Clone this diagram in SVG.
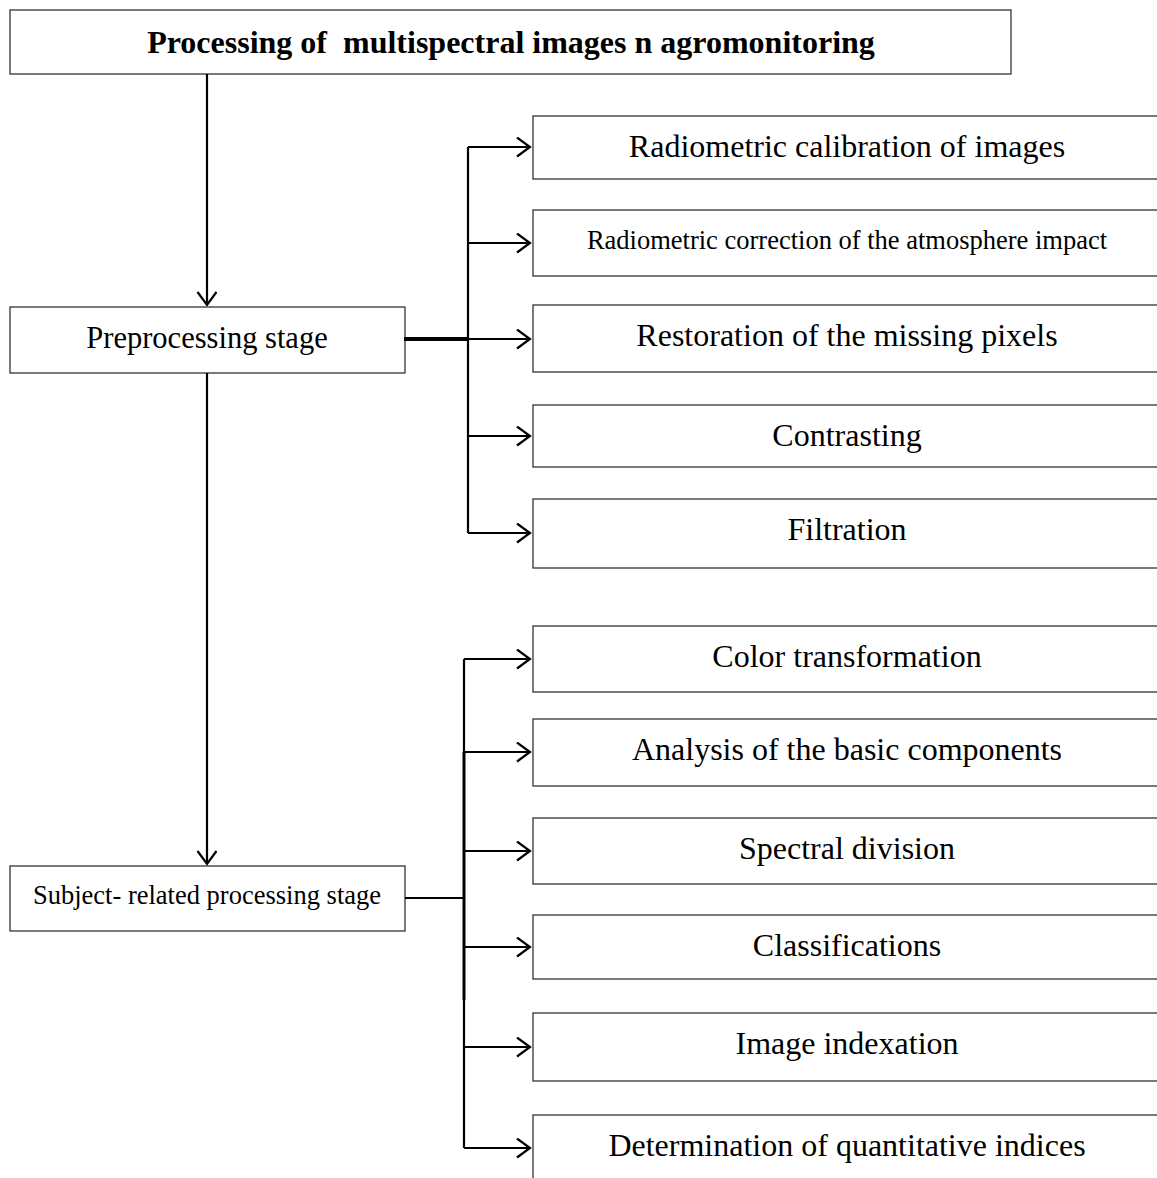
<svg xmlns="http://www.w3.org/2000/svg" width="1157" height="1178" viewBox="0 0 1157 1178">
<style>
.box{fill:#fff;stroke:#333;stroke-width:1.3}
.t{font-family:"Liberation Serif","Times New Roman",serif;fill:#000;text-anchor:middle}
.big{font-size:32px}
.mid{font-size:30.5px}
.small{font-size:26.5px}
.title{font-size:32px;font-weight:bold}
.c{fill:none;stroke:#000;stroke-width:2.2}
.thick{fill:none;stroke:#000;stroke-width:4}
</style>
<defs>
<marker id="ah" markerUnits="userSpaceOnUse" markerWidth="24" markerHeight="24" refX="20" refY="10" orient="auto">
<path d="M7,0.5 L20,10 L7,19.5" fill="none" stroke="#000" stroke-width="2.2"/>
</marker>
</defs>
<rect width="1157" height="1178" fill="#fff"/>
<g id="title"><rect class="box" x="10" y="10" width="1001" height="64"/><text class="t title" x="511" y="53" xml:space="preserve">Processing of  multispectral images n agromonitoring</text></g>
<g id="pre"><rect class="box" x="10" y="307" width="395" height="66"/><text class="t mid" x="207" y="348">Preprocessing stage</text></g>
<g id="subj"><rect class="box" x="10" y="866" width="395" height="65"/><text class="t small" x="207" y="904">Subject- related processing stage</text></g>
<g id="r1"><rect class="box" x="533" y="116" width="640" height="63"/><text class="t big" x="847" y="157">Radiometric calibration of images</text></g>
<g id="r2"><rect class="box" x="533" y="210" width="640" height="66"/><text class="t small" x="847" y="249">Radiometric correction of the atmosphere impact</text></g>
<g id="r3"><rect class="box" x="533" y="305" width="640" height="67"/><text class="t big" x="847" y="346">Restoration of the missing pixels</text></g>
<g id="r4"><rect class="box" x="533" y="405" width="640" height="62"/><text class="t big" x="847" y="446">Contrasting</text></g>
<g id="r5"><rect class="box" x="533" y="499" width="640" height="69"/><text class="t big" x="847" y="540">Filtration</text></g>
<g id="s1"><rect class="box" x="533" y="626" width="640" height="66"/><text class="t big" x="847" y="667">Color transformation</text></g>
<g id="s2"><rect class="box" x="533" y="719" width="640" height="67"/><text class="t big" x="847" y="760">Analysis of the basic components</text></g>
<g id="s3"><rect class="box" x="533" y="818" width="640" height="66"/><text class="t big" x="847" y="859">Spectral division</text></g>
<g id="s4"><rect class="box" x="533" y="915" width="640" height="64"/><text class="t big" x="847" y="956">Classifications</text></g>
<g id="s5"><rect class="box" x="533" y="1013" width="640" height="68"/><text class="t big" x="847" y="1054">Image indexation</text></g>
<g id="s6"><rect class="box" x="533" y="1115" width="640" height="100"/><text class="t big" x="847" y="1156">Determination of quantitative indices</text></g>
<g id="connectors">
<path class="c" d="M207,74 V305" marker-end="url(#ah)"/>
<path class="c" d="M207,373 V864" marker-end="url(#ah)"/>
<path class="thick" d="M404,339 H468"/>
<path class="c" d="M468,147 V533"/>
<path class="c" d="M468,147 H530" marker-end="url(#ah)"/>
<path class="c" d="M468,243 H530" marker-end="url(#ah)"/>
<path class="c" d="M468,339 H530" marker-end="url(#ah)"/>
<path class="c" d="M468,436 H530" marker-end="url(#ah)"/>
<path class="c" d="M468,533 H530" marker-end="url(#ah)"/>
<path class="c" d="M405,898 H464"/>
<path class="c" d="M464,659 V752"/>
<path class="thick" d="M464,752 V1000" style="stroke-width:3"/>
<path class="c" d="M464,1000 V1148"/>
<path class="c" d="M464,659 H530" marker-end="url(#ah)"/>
<path class="c" d="M464,752 H530" marker-end="url(#ah)"/>
<path class="c" d="M464,851 H530" marker-end="url(#ah)"/>
<path class="c" d="M464,947 H530" marker-end="url(#ah)"/>
<path class="c" d="M464,1047 H530" marker-end="url(#ah)"/>
<path class="c" d="M464,1148 H530" marker-end="url(#ah)"/>
</g>
</svg>
